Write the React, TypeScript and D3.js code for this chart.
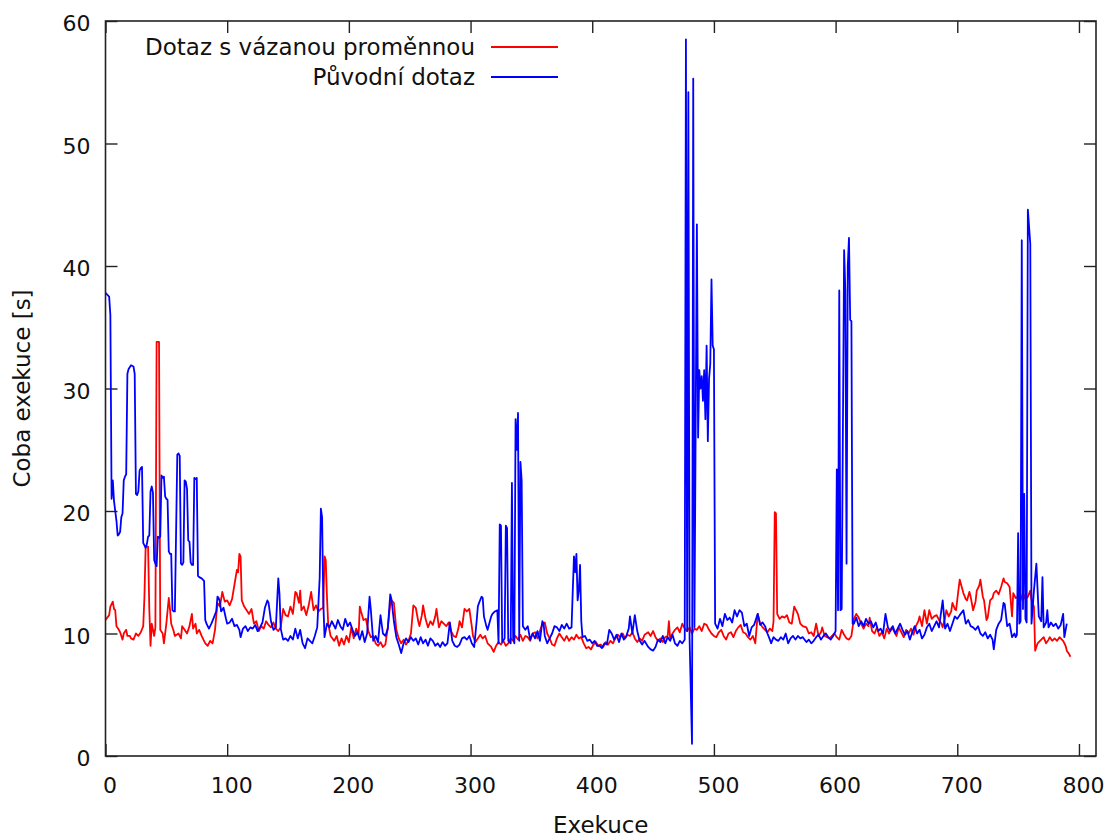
import React, { useEffect, useRef } from 'react';
import * as d3 from 'd3';

// execution index, time in seconds
const boundQuery: [number, number][] = [
  [0, 11.1], [3, 11.5], [4, 12.2], [6, 12.6], [7, 12.0], [8, 11.9], [9, 10.6], [11, 10.3], [12, 10.1], [14, 9.5],
  [15, 10.0], [17, 10.3], [18, 9.8], [20, 9.8], [21, 9.6], [23, 9.5], [25, 10.0], [27, 9.8], [29, 10.1], [31, 10.6],
  [32, 13.0], [33, 17.1], [35, 17.1], [36, 12.0], [37, 9.0], [38, 10.8], [40, 9.8], [41, 10.5], [42, 33.8], [44, 33.8],
  [45, 10.3], [47, 10.0], [48, 9.2], [50, 10.8], [52, 12.9], [53, 12.0], [54, 10.8], [56, 10.2], [57, 9.8], [60, 10.0],
  [62, 9.6], [63, 10.6], [65, 10.3], [67, 10.0], [69, 10.6], [71, 11.6], [72, 10.4], [74, 10.8], [75, 10.0], [77, 10.3],
  [79, 9.8], [81, 9.4], [82, 9.2], [84, 9.0], [86, 9.4], [88, 9.2], [90, 10.3], [92, 12.5], [94, 12.2], [96, 13.4],
  [98, 12.6], [100, 12.7], [102, 12.3], [104, 12.8], [106, 14.0], [108, 15.2], [109, 15.0], [110, 16.5], [111, 16.3], [112, 12.7],
  [114, 12.2], [116, 11.9], [118, 11.6], [120, 12.0], [122, 10.8], [124, 11.0], [126, 10.2], [128, 10.6], [130, 10.4], [132, 11.0],
  [134, 10.7], [136, 10.5], [138, 10.9], [140, 10.4], [142, 10.2], [144, 10.5], [146, 12.0], [148, 11.5], [150, 11.4], [152, 12.2],
  [154, 11.6], [156, 13.4], [157, 13.3], [159, 12.5], [160, 13.5], [161, 11.9], [163, 12.2], [165, 11.5], [167, 12.3], [169, 13.4],
  [171, 11.9], [173, 12.3], [175, 11.8], [177, 12.0], [179, 12.1], [180, 16.3], [181, 16.0], [182, 13.0], [183, 10.8], [185, 9.8],
  [188, 9.4], [190, 9.8], [192, 9.0], [194, 9.6], [196, 9.1], [198, 9.8], [200, 9.3], [202, 10.5], [204, 9.6], [206, 10.4],
  [208, 9.9], [209, 12.2], [210, 11.8], [212, 11.1], [214, 11.2], [216, 10.2], [218, 9.7], [220, 9.8], [222, 9.2], [224, 9.0],
  [226, 9.3], [228, 8.9], [230, 9.1], [232, 10.5], [234, 12.4], [235, 12.7], [237, 12.5], [239, 10.3], [241, 9.6], [243, 9.2],
  [245, 9.5], [247, 9.1], [249, 9.4], [251, 10.0], [253, 12.3], [255, 12.1], [257, 11.0], [258, 10.6], [260, 11.5], [261, 12.3],
  [263, 11.2], [265, 10.5], [267, 11.0], [269, 10.7], [271, 11.4], [272, 12.0], [274, 10.5], [276, 11.0], [278, 10.8], [280, 10.6],
  [282, 10.9], [284, 10.2], [286, 9.8], [288, 9.7], [290, 10.4], [291, 11.0], [293, 10.5], [295, 12.0], [297, 11.8], [299, 12.0],
  [301, 10.6], [302, 9.8], [304, 9.3], [306, 9.6], [308, 9.9], [310, 9.6], [312, 9.8], [314, 9.2], [317, 8.9], [319, 8.5],
  [321, 9.0], [323, 9.3], [325, 9.1], [327, 9.4], [329, 9.0], [331, 9.2], [333, 9.6], [335, 9.4], [337, 9.8], [339, 9.5],
  [341, 9.9], [343, 9.4], [345, 9.8], [347, 9.7], [349, 9.4], [351, 10.0], [353, 10.1], [355, 9.6], [357, 10.2], [359, 10.8],
  [361, 10.9], [363, 10.0], [365, 9.6], [367, 9.1], [369, 9.0], [371, 9.6], [373, 10.0], [375, 9.7], [377, 9.4], [379, 9.8],
  [381, 9.4], [383, 9.7], [385, 9.5], [387, 9.9], [389, 9.6], [391, 9.7], [393, 9.2], [395, 8.8], [397, 8.9], [399, 8.7],
  [401, 9.1], [403, 9.3], [405, 9.0], [407, 9.1], [409, 8.9], [411, 9.3], [413, 9.1], [415, 9.4], [417, 9.2], [419, 9.6],
  [421, 9.9], [423, 9.7], [425, 10.0], [427, 9.6], [429, 9.9], [431, 9.8], [433, 10.1], [435, 9.6], [437, 9.3], [439, 9.6],
  [441, 9.4], [443, 9.9], [446, 10.1], [448, 9.8], [450, 10.2], [452, 9.7], [454, 9.4], [456, 9.6], [458, 9.3], [460, 9.7],
  [462, 9.8], [463, 11.0], [464, 9.6], [466, 10.0], [468, 10.3], [470, 10.5], [472, 10.1], [474, 10.8], [476, 10.4], [478, 10.2],
  [480, 10.5], [482, 10.0], [484, 10.4], [486, 10.3], [488, 10.6], [490, 10.2], [492, 10.8], [494, 10.7], [496, 10.3], [498, 10.0],
  [500, 9.8], [502, 9.7], [504, 10.1], [506, 10.3], [508, 9.8], [510, 9.5], [512, 10.0], [514, 10.1], [516, 9.7], [518, 10.2],
  [520, 10.5], [522, 10.7], [524, 10.1], [526, 10.0], [528, 9.7], [530, 9.5], [532, 9.8], [534, 9.2], [536, 11.6], [538, 10.8],
  [540, 10.5], [542, 10.3], [544, 10.1], [546, 10.4], [548, 10.2], [549, 11.0], [550, 19.9], [551, 19.8], [552, 11.6], [554, 11.2],
  [556, 11.4], [558, 11.3], [560, 11.5], [562, 10.9], [564, 10.8], [566, 12.2], [568, 11.8], [569, 11.6], [571, 10.8], [573, 10.6],
  [576, 10.5], [578, 10.0], [580, 10.1], [582, 9.8], [584, 10.8], [586, 9.8], [588, 10.1], [589, 10.5], [591, 9.8], [593, 9.7],
  [595, 9.6], [597, 9.8], [599, 10.0], [601, 9.7], [603, 9.5], [605, 10.3], [607, 9.9], [609, 9.6], [611, 9.5], [613, 9.8],
  [615, 11.2], [617, 11.6], [619, 11.3], [621, 10.8], [623, 10.4], [625, 10.8], [627, 10.6], [628, 11.3], [630, 10.2], [632, 10.0],
  [634, 10.5], [636, 9.8], [638, 10.1], [640, 9.6], [642, 10.4], [644, 10.0], [646, 10.5], [648, 10.2], [650, 9.8], [652, 10.5],
  [654, 10.1], [656, 9.7], [658, 10.3], [660, 10.0], [662, 10.4], [664, 9.9], [666, 10.6], [668, 11.0], [669, 11.4], [671, 10.6],
  [673, 11.9], [675, 10.8], [677, 11.9], [679, 11.2], [681, 11.4], [683, 11.5], [685, 11.1], [687, 10.8], [688, 10.5], [690, 11.3],
  [691, 11.9], [693, 11.4], [695, 11.8], [696, 12.5], [698, 12.0], [699, 11.9], [701, 13.6], [702, 14.4], [705, 13.3], [707, 12.8],
  [708, 12.7], [710, 13.4], [711, 13.0], [713, 11.9], [715, 12.6], [716, 13.5], [718, 13.9], [719, 14.4], [721, 13.0], [722, 12.7],
  [724, 11.1], [725, 11.3], [727, 12.7], [729, 12.9], [730, 13.3], [732, 13.5], [734, 13.2], [736, 13.8], [738, 14.5], [739, 14.2],
  [741, 14.1], [743, 13.8], [745, 11.4], [746, 13.3], [748, 12.9], [750, 13.0], [752, 12.7], [754, 13.3], [756, 12.8], [758, 13.0],
  [760, 13.5], [761, 12.7], [763, 12.2], [764, 8.6], [766, 9.2], [768, 9.4], [770, 9.6], [771, 9.7], [773, 9.2], [775, 9.5],
  [776, 9.7], [778, 9.4], [780, 9.6], [782, 9.4], [784, 9.7], [786, 9.5], [787, 9.4], [789, 9.0], [790, 8.6], [792, 8.3],
  [793, 8.1],
];

const originalQuery: [number, number][] = [
  [0, 37.8], [3, 37.5], [4, 36.0], [5, 21.0], [6, 22.5], [7, 20.8], [8, 20.0], [9, 19.2], [10, 18.0], [11, 18.1],
  [12, 18.3], [13, 19.5], [14, 19.8], [15, 22.5], [16, 22.8], [17, 23.0], [18, 31.2], [19, 31.6], [21, 31.9], [23, 31.8],
  [24, 31.2], [25, 21.4], [26, 21.3], [27, 21.6], [28, 23.3], [29, 23.5], [30, 23.6], [31, 17.4], [32, 17.2], [33, 17.0],
  [34, 17.3], [35, 17.9], [36, 18.0], [37, 21.6], [38, 22.0], [39, 21.5], [40, 16.0], [41, 15.7], [42, 15.5], [43, 17.9],
  [44, 17.8], [45, 17.9], [46, 22.9], [47, 22.7], [48, 22.8], [49, 21.2], [50, 21.0], [51, 20.9], [52, 16.7], [53, 16.5],
  [54, 16.5], [55, 11.9], [56, 11.8], [57, 11.8], [59, 24.6], [60, 24.7], [61, 24.5], [62, 15.7], [63, 15.6], [64, 15.8],
  [65, 22.5], [66, 22.4], [67, 21.8], [68, 17.6], [69, 17.5], [70, 15.8], [71, 15.6], [72, 15.6], [73, 22.7], [74, 22.6],
  [75, 22.7], [76, 14.7], [77, 14.6], [79, 14.5], [81, 14.3], [82, 11.1], [83, 10.8], [85, 10.4], [87, 10.8], [89, 11.3],
  [91, 11.8], [92, 13.0], [93, 12.9], [94, 12.6], [95, 11.8], [97, 12.1], [99, 11.2], [100, 10.8], [102, 10.9], [104, 11.2],
  [106, 10.6], [108, 10.7], [110, 10.3], [111, 9.7], [113, 10.4], [115, 10.6], [117, 10.2], [119, 10.5], [121, 10.4], [123, 10.7],
  [125, 10.2], [127, 10.5], [129, 10.9], [131, 12.1], [133, 12.7], [134, 12.5], [136, 11.0], [138, 10.3], [140, 10.5], [142, 14.5],
  [143, 13.2], [144, 10.4], [146, 9.5], [148, 9.6], [150, 9.4], [152, 9.8], [154, 9.5], [156, 10.4], [158, 9.6], [160, 10.3],
  [162, 9.2], [164, 8.8], [166, 9.6], [168, 9.4], [170, 9.2], [172, 9.8], [174, 10.5], [176, 14.5], [177, 20.2], [178, 19.5],
  [179, 12.5], [180, 9.7], [182, 10.8], [184, 10.5], [186, 11.0], [189, 10.4], [191, 11.1], [193, 10.6], [195, 10.3], [197, 11.2],
  [199, 10.6], [201, 10.9], [203, 10.3], [205, 9.8], [207, 10.1], [209, 9.5], [211, 10.2], [213, 9.3], [215, 10.0], [217, 13.0],
  [218, 12.0], [220, 9.4], [222, 9.8], [224, 9.3], [226, 11.5], [228, 10.0], [230, 9.8], [232, 10.4], [234, 13.2], [235, 12.8],
  [237, 11.0], [239, 9.7], [241, 9.1], [243, 8.4], [245, 9.2], [247, 9.6], [249, 9.3], [251, 9.7], [253, 9.4], [255, 9.6],
  [257, 9.1], [259, 9.7], [261, 9.2], [263, 9.5], [265, 9.0], [267, 9.6], [269, 9.4], [271, 9.0], [273, 9.2], [275, 8.9],
  [277, 9.3], [279, 9.0], [281, 9.2], [283, 10.9], [285, 9.4], [287, 9.0], [289, 8.9], [291, 9.1], [293, 9.6], [295, 9.7],
  [297, 9.5], [299, 9.8], [301, 9.2], [303, 8.9], [305, 11.0], [306, 12.2], [307, 12.5], [309, 13.0], [310, 12.9], [311, 11.4],
  [313, 10.6], [314, 10.3], [317, 11.4], [318, 11.6], [320, 11.8], [322, 11.9], [323, 9.2], [324, 18.9], [325, 18.8], [326, 9.3],
  [328, 9.6], [329, 18.8], [330, 18.6], [331, 9.4], [333, 9.2], [334, 22.3], [335, 9.6], [336, 9.2], [337, 27.5], [338, 25.0],
  [339, 28.0], [340, 9.4], [341, 24.0], [342, 22.5], [343, 10.6], [345, 10.3], [347, 10.6], [349, 9.5], [351, 10.0], [353, 9.6],
  [355, 10.2], [357, 9.4], [359, 11.0], [360, 10.8], [361, 9.8], [363, 9.2], [365, 9.6], [367, 10.0], [369, 10.6], [371, 10.5],
  [373, 10.2], [375, 10.7], [377, 10.4], [379, 10.8], [381, 10.4], [383, 10.5], [384, 13.5], [385, 16.3], [386, 15.0], [387, 16.5],
  [388, 12.7], [389, 13.5], [390, 15.6], [391, 11.0], [392, 9.7], [394, 9.8], [396, 9.4], [398, 9.5], [400, 9.2], [402, 9.4],
  [404, 9.0], [406, 9.0], [408, 8.8], [410, 9.2], [412, 9.1], [414, 10.3], [416, 10.0], [418, 9.5], [420, 9.9], [422, 9.3],
  [424, 10.0], [426, 9.5], [428, 9.8], [430, 10.4], [431, 11.4], [433, 10.0], [435, 11.5], [437, 10.2], [439, 9.4], [441, 9.1],
  [443, 9.4], [446, 8.9], [448, 8.7], [450, 8.6], [452, 8.9], [454, 9.5], [456, 9.3], [458, 9.8], [460, 9.2], [462, 9.7],
  [464, 9.4], [466, 9.9], [468, 9.2], [470, 9.0], [472, 9.4], [474, 9.2], [476, 9.5], [477, 58.5], [478, 10.2], [479, 54.2],
  [480, 9.6], [482, 1.0], [483, 55.3], [484, 10.5], [486, 43.4], [487, 26.0], [488, 31.5], [489, 30.0], [490, 31.0], [491, 29.0],
  [492, 31.5], [493, 27.5], [494, 33.5], [495, 25.7], [496, 30.8], [497, 32.0], [498, 38.9], [499, 33.5], [500, 33.2], [501, 10.8],
  [503, 10.4], [505, 11.2], [507, 10.6], [509, 11.6], [511, 11.1], [513, 11.3], [515, 10.9], [517, 11.9], [519, 11.4], [521, 11.9],
  [523, 11.7], [525, 10.6], [527, 10.8], [529, 9.8], [531, 10.5], [533, 10.7], [536, 11.6], [538, 10.7], [540, 10.9], [542, 10.6],
  [544, 10.0], [546, 9.5], [547, 9.2], [549, 9.7], [551, 9.5], [553, 9.4], [555, 9.7], [557, 9.5], [559, 10.0], [561, 9.2],
  [563, 9.6], [565, 9.8], [567, 9.5], [569, 9.8], [571, 9.6], [573, 9.7], [576, 9.3], [578, 9.5], [580, 9.2], [582, 9.4],
  [584, 9.7], [586, 9.9], [588, 9.5], [590, 9.8], [592, 10.0], [594, 9.7], [596, 9.5], [598, 9.8], [600, 10.2], [601, 23.4],
  [602, 11.9], [603, 38.0], [604, 11.9], [605, 12.0], [607, 41.3], [608, 38.0], [609, 15.7], [610, 40.0], [611, 42.3], [612, 35.6],
  [613, 35.5], [614, 10.8], [615, 10.8], [617, 11.3], [619, 10.6], [621, 11.0], [623, 10.6], [625, 11.2], [627, 10.8], [629, 11.0],
  [631, 10.5], [633, 10.9], [635, 10.2], [637, 10.4], [639, 10.0], [641, 11.6], [643, 10.5], [645, 10.2], [647, 10.6], [649, 10.0],
  [651, 10.4], [653, 10.8], [655, 10.3], [657, 9.9], [659, 10.2], [661, 9.5], [663, 10.1], [665, 10.6], [667, 10.0], [669, 10.3],
  [671, 9.6], [673, 9.9], [675, 10.5], [677, 10.8], [679, 10.2], [681, 10.6], [683, 11.0], [685, 10.5], [688, 12.7], [690, 10.4],
  [692, 10.8], [694, 10.2], [696, 10.8], [698, 11.4], [700, 11.2], [702, 11.5], [705, 11.9], [707, 10.8], [709, 11.1], [711, 10.6],
  [713, 10.5], [715, 10.3], [717, 10.6], [719, 10.0], [721, 9.8], [723, 10.1], [725, 9.6], [727, 9.9], [729, 9.5], [730, 8.7],
  [732, 10.3], [734, 10.8], [736, 11.1], [738, 12.5], [739, 12.4], [741, 10.6], [743, 10.8], [745, 9.7], [747, 10.0], [748, 9.7],
  [749, 9.9], [750, 18.2], [751, 10.8], [752, 11.0], [753, 42.1], [754, 12.0], [755, 21.4], [756, 11.2], [757, 10.9], [758, 44.6],
  [760, 41.8], [761, 10.8], [763, 13.5], [765, 15.7], [767, 11.4], [769, 11.0], [770, 14.6], [771, 10.5], [773, 10.9], [774, 11.9],
  [775, 10.5], [777, 10.9], [779, 10.6], [781, 10.8], [783, 10.4], [785, 10.7], [787, 11.6], [788, 9.7], [790, 10.8],
];

const xTicks = [0, 100, 200, 300, 400, 500, 600, 700, 800];
const yTicks = [0, 10, 20, 30, 40, 50, 60];
const seriesNames = ['Dotaz s vázanou proměnnou', 'Původní dotaz'];
const seriesColors = ['#ff0000', '#0000ff'];

const Chart = ({ width = 1106, height = 837 }) => {
  const chartRef = useRef<SVGSVGElement>(null);

  useEffect(() => {
    const margin = { top: 21, left: 105.5, bottom: 81, right: 10 };
    const iwidth = width - margin.left - margin.right;
    const iheight = height - margin.top - margin.bottom;
    const font = "'DejaVu Sans', Verdana, sans-serif";

    const svg = d3.select(chartRef.current);
    svg.selectAll('*').remove();
    svg.attr('width', width).attr('height', height);

    svg.append('rect').attr('width', width).attr('height', height).attr('fill', '#ffffff');

    const g = svg.append('g').attr('transform', `translate(${margin.left},${margin.top})`);

    // the frame runs a little past the last tick
    const x = d3.scaleLinear().domain([0, 814]).range([0, iwidth]);
    const y = d3.scaleLinear().domain([0, 60]).range([iheight, 0]);

    const tickLen = 12;
    const axisColor = '#222';

    // ticks drawn inward on all four sides, gnuplot style
    const bottom = g.append('g').attr('transform', `translate(0,${iheight})`)
      .call(d3.axisBottom(x).tickValues(xTicks).tickSize(-tickLen).tickPadding(21).tickFormat(d3.format('d')));
    const top = g.append('g')
      .call(d3.axisTop(x).tickValues(xTicks).tickSize(-tickLen).tickFormat(() => ''));
    const left = g.append('g')
      .call(d3.axisLeft(y).tickValues(yTicks).tickSize(-tickLen).tickPadding(15).tickFormat(d3.format('d')));
    const right = g.append('g').attr('transform', `translate(${iwidth},0)`)
      .call(d3.axisRight(y).tickValues(yTicks).tickSize(-tickLen).tickFormat(() => ''));

    [bottom, top, left, right].forEach((a) => {
      a.select('.domain').remove();
      a.selectAll('line').attr('stroke', axisColor).attr('stroke-width', 1.4);
      a.selectAll('text').attr('font-family', font).attr('font-size', 22).attr('fill', '#111');
    });
    bottom.selectAll('text').attr('dx', 4);
    left.selectAll('text').attr('dy', '0.45em');

    const line = d3.line<[number, number]>()
      .x((d) => x(d[0]))
      .y((d) => y(d[1]));

    [boundQuery, originalQuery].forEach((series, i) => {
      g.append('path')
        .datum(series)
        .attr('fill', 'none')
        .attr('stroke', seriesColors[i])
        .attr('stroke-width', 1.8)
        .attr('stroke-linejoin', 'round')
        .attr('d', line);
    });

    g.append('rect')
      .attr('width', iwidth)
      .attr('height', iheight)
      .attr('fill', 'none')
      .attr('stroke', axisColor)
      .attr('stroke-width', 1.6);

    // legend
    const legend = svg.append('g');
    seriesNames.forEach((name, i) => {
      const ly = 47 + i * 30;
      legend.append('text')
        .attr('x', 475)
        .attr('y', ly)
        .attr('dy', '0.35em')
        .attr('text-anchor', 'end')
        .attr('font-family', font)
        .attr('font-size', 23)
        .attr('fill', '#111')
        .text(name);
      legend.append('line')
        .attr('x1', 491)
        .attr('x2', 558)
        .attr('y1', ly)
        .attr('y2', ly)
        .attr('stroke', seriesColors[i])
        .attr('stroke-width', 1.8);
    });

    svg.append('text')
      .attr('x', margin.left + iwidth / 2)
      .attr('y', 833)
      .attr('text-anchor', 'middle')
      .attr('font-family', font)
      .attr('font-size', 23)
      .attr('fill', '#111')
      .text('Exekuce');

    svg.append('text')
      .attr('transform', `translate(30,${margin.top + iheight / 2}) rotate(-90)`)
      .attr('text-anchor', 'middle')
      .attr('font-family', font)
      .attr('font-size', 23)
      .attr('fill', '#111')
      .text('Coba exekuce [s]');
  }, [width, height]);

  return <svg ref={chartRef} style={{ position: 'absolute', left: 0, top: 0 }}></svg>;
};

export default function App() {
  return (
    <div id='chartArea'>
      <Chart />
    </div>
  );
}
